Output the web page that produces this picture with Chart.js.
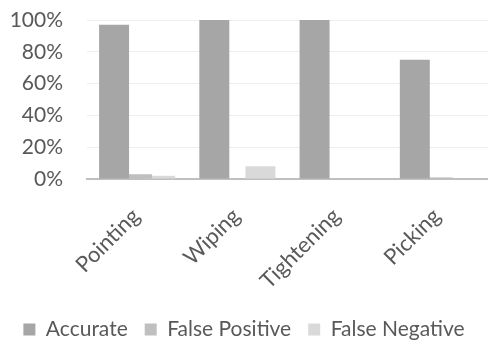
<!DOCTYPE html>
<html>
<head>
<meta charset="utf-8">
<script src="https://cdn.jsdelivr.net/npm/chart.js@4/dist/chart.umd.min.js"></script>
<style>
  html, body { margin: 0; padding: 0; background: #fff; }
  #wrap { width: 488px; height: 344px; }
</style>
</head>
<body>
<div id="wrap"><canvas id="accuracyChart"></canvas></div>
<script>
var tasks = ['Pointing', 'Wiping', 'Tightening', 'Picking'];
var accurate = [97, 100, 100, 75];
var falsePositive = [3, 0, 0, 1];
var falseNegative = [2, 8, 0, 0];
var yTicks = [0, 20, 40, 60, 80, 100];

var fontFamily = 'Lato, "Open Sans", sans-serif';
var textColor = '#595959';

function series(label, values, color) {
    return {
        label: label,
        data: values,
        backgroundColor: color,
        borderWidth: 0,
        categoryPercentage: 0.69,
        barPercentage: 1.3
    };
}

// fixed axis sizes so the plot edges don't move with text measuring
function fixSize(prop, size) {
    return function (axis) {
        axis[prop] = size;
        axis.paddingLeft = 0;
        axis.paddingRight = 0;
        axis.paddingTop = 0;
        axis.paddingBottom = 0;
    };
}

new Chart(document.getElementById('accuracyChart'), {
    type: 'bar',
    data: {
        labels: tasks,
        datasets: [
            series('Accurate', accurate, '#a6a6a6'),
            series('False Positive', falsePositive, '#bfbfbf'),
            series('False Negative', falseNegative, '#d9d9d9')
        ]
    },
    options: {
        responsive: true,
        maintainAspectRatio: false,
        animation: false,
        layout: { padding: { top: 20, right: 0, left: 0, bottom: -6 } },
        plugins: {
            tooltip: { enabled: false },
            legend: {
                position: 'bottom',
                labels: {
                    boxWidth: 12,
                    boxHeight: 12,
                    padding: 17,
                    color: textColor,
                    font: { family: fontFamily, size: 21 }
                }
            }
        },
        scales: {
            x: {
                afterFit: fixSize('height', 123),
                grid: { display: false },
                border: { color: '#bfbfbf', width: 2 },
                ticks: {
                    color: textColor,
                    minRotation: 45,
                    maxRotation: 45,
                    autoSkip: false,
                    padding: 16,
                    labelOffset: -1,
                    font: { family: fontFamily, size: 22 }
                }
            },
            y: {
                min: 0,
                max: 100,
                afterBuildTicks: function (axis) {
                    axis.ticks = yTicks.map(function (v) { return { value: v }; });
                },
                afterFit: fixSize('width', 87),
                grid: { color: '#eeeeee', drawTicks: false },
                border: { display: false },
                ticks: {
                    color: textColor,
                    autoSkip: false,
                    padding: 24,
                    font: { family: fontFamily, size: 21 },
                    callback: function (v) { return v + '%'; }
                }
            }
        }
    }
});
</script>
</body>
</html>
